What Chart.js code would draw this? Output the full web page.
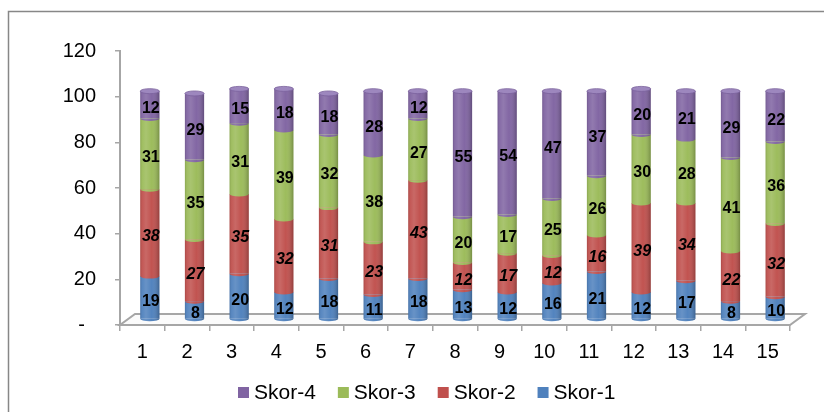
<!DOCTYPE html>
<html>
<head>
<meta charset="utf-8">
<script src="https://cdn.jsdelivr.net/npm/chart.js@4/dist/chart.umd.min.js"></script>
<style>
  html, body { margin: 0; padding: 0; background: #fff; }
  canvas { display: block; }
</style>
</head>
<body>
<canvas id="chart" width="824" height="412"></canvas>
<script>
// Categories and stacked score shares
const categories = ['1', '2', '3', '4', '5', '6', '7', '8', '9', '10', '11', '12', '13', '14', '15'];
const skor1 = [19, 8, 20, 12, 18, 11, 18, 13, 12, 16, 21, 12, 17, 8, 10];
const skor2 = [38, 27, 35, 32, 31, 23, 43, 12, 17, 12, 16, 39, 34, 22, 32];
const skor3 = [31, 35, 31, 39, 32, 38, 27, 20, 17, 25, 26, 30, 28, 41, 36];
const skor4 = [12, 29, 15, 18, 18, 28, 12, 55, 54, 47, 37, 20, 21, 29, 22];
const seriesNames = ['Skor-1', 'Skor-2', 'Skor-3', 'Skor-4'];
const yTickLabels = ['-  ', '20', '40', '60', '80', '100', '120'];

const FONT = '"Liberation Sans", Arial, Helvetica, sans-serif';
const COLORS = ['#4F81BD', '#C0504D', '#9BBB59', '#8064A2'];
const CAP_COLOR = '#9D87BE';
const CAP_EDGE = '#7A619C';
const AXIS_GREY = '#A6A6A6';

// Perspective offsets: floor depth and the bars sitting halfway back on it
const FLOOR_DX = 15, FLOOR_DY = -11;
const BAR_DX = 7.5, BAR_DY = -5.5;
const RY = 2.5; // vertical radius of the cylinder ellipses
const LABEL_DY = 4; // value labels sit on the front face of the cylinder

const cylinders = {
  id: 'cylinders',
  beforeDraw(chart) {
    const ctx = chart.ctx;
    ctx.save();
    ctx.fillStyle = '#fff';
    ctx.fillRect(0, 0, chart.width, chart.height);
    ctx.strokeStyle = '#878787';
    ctx.lineWidth = 1.5;
    ctx.strokeRect(8.5, 11.5, chart.width + 40, chart.height + 40);
    ctx.restore();
  },
  beforeDatasetsDraw(chart) {
    const { ctx, chartArea: a } = chart;
    ctx.save();
    ctx.beginPath();
    ctx.moveTo(a.left, a.bottom);
    ctx.lineTo(a.right, a.bottom);
    ctx.lineTo(a.right + FLOOR_DX, a.bottom + FLOOR_DY);
    ctx.lineTo(a.left + FLOOR_DX, a.bottom + FLOOR_DY);
    ctx.closePath();
    ctx.fillStyle = '#FBFBFB';
    ctx.fill();
    ctx.strokeStyle = AXIS_GREY;
    ctx.lineWidth = 2;
    ctx.stroke();
    ctx.restore();
    ctx.save();
    ctx.translate(BAR_DX, BAR_DY);
  },
  afterDatasetsDraw(chart) {
    const ctx = chart.ctx;
    const metas = chart.data.datasets.map((_, i) => chart.getDatasetMeta(i));
    const n = chart.data.labels.length;
    for (let j = 0; j < n; j++) {
      let topY = Infinity, baseY = -Infinity, cx = 0, w = 0;
      metas.forEach((m, i) => {
        const el = m.data[j];
        const p = el.getProps(['x', 'y', 'base', 'width'], true);
        if (Math.abs(p.base - p.y) < 0.5) return;
        cx = p.x; w = p.width;
        topY = Math.min(topY, p.y);
        baseY = Math.max(baseY, p.base);
        ctx.beginPath();
        ctx.ellipse(p.x, p.base, p.width / 2, RY, 0, 0, Math.PI);
        ctx.fillStyle = COLORS[i];
        ctx.fill();
      });
      if (!isFinite(topY)) continue;
      // cylinder shading
      const g = ctx.createLinearGradient(cx - w / 2, 0, cx + w / 2, 0);
      g.addColorStop(0, 'rgba(0,0,0,0.12)');
      g.addColorStop(0.12, 'rgba(255,255,255,0.06)');
      g.addColorStop(0.3, 'rgba(255,255,255,0.14)');
      g.addColorStop(0.6, 'rgba(255,255,255,0.02)');
      g.addColorStop(1, 'rgba(0,0,0,0.24)');
      ctx.beginPath();
      ctx.moveTo(cx - w / 2, topY);
      ctx.lineTo(cx + w / 2, topY);
      ctx.lineTo(cx + w / 2, baseY);
      ctx.ellipse(cx, baseY, w / 2, RY, 0, 0, Math.PI);
      ctx.closePath();
      ctx.fillStyle = g;
      ctx.fill();
      // top cap
      ctx.beginPath();
      ctx.ellipse(cx, topY, w / 2, RY, 0, 0, Math.PI * 2);
      ctx.fillStyle = CAP_COLOR;
      ctx.fill();
      ctx.strokeStyle = CAP_EDGE;
      ctx.lineWidth = 0.8;
      ctx.stroke();
    }
    // value labels
    ctx.fillStyle = '#000';
    ctx.textAlign = 'center';
    ctx.textBaseline = 'middle';
    metas.forEach((m, i) => {
      ctx.font = (i === 1 ? 'italic ' : '') + 'bold 16px ' + FONT;
      const values = chart.data.datasets[i].data;
      m.data.forEach((el, j) => {
        const p = el.getProps(['x', 'y', 'base'], true);
        ctx.fillText(String(values[j]), p.x + 1, (p.y + p.base) / 2 + LABEL_DY);
      });
    });
    ctx.restore();
  },
  afterDraw(chart) {
    const ctx = chart.ctx;
    ctx.save();
    ctx.font = '21px ' + FONT;
    ctx.textBaseline = 'middle';
    ctx.textAlign = 'left';
    let x = 238;
    const yMid = 393;
    for (let i = seriesNames.length - 1; i >= 0; i--) {
      ctx.fillStyle = COLORS[i];
      ctx.fillRect(x, yMid - 6, 11, 11);
      ctx.fillStyle = '#000';
      ctx.fillText(seriesNames[i], x + 16, yMid);
      x += 16 + ctx.measureText(seriesNames[i]).width + 22;
    }
    ctx.restore();
  }
};

const seriesData = [skor1, skor2, skor3, skor4];

new Chart(document.getElementById('chart'), {
  type: 'bar',
  data: {
    labels: categories,
    datasets: seriesNames.map((name, i) => ({
      label: name,
      data: seriesData[i],
      backgroundColor: COLORS[i],
      borderWidth: 0,
      barPercentage: 0.43,
      categoryPercentage: 1
    }))
  },
  options: {
    responsive: false,
    devicePixelRatio: 1,
    animation: false,
    events: [],
    layout: { padding: { top: 51, right: 34, bottom: 0, left: 0 } },
    plugins: {
      legend: { display: false },
      tooltip: { enabled: false }
    },
    scales: {
      x: {
        stacked: true,
        grid: { drawOnChartArea: false, tickLength: 6, color: AXIS_GREY, lineWidth: 1.5 },
        border: { color: AXIS_GREY, width: 2 },
        ticks: { color: '#000', font: { family: FONT, size: 20 }, padding: 9, maxRotation: 0 },
        afterFit(scale) { scale.height = 87; }
      },
      y: {
        stacked: true,
        min: 0,
        max: 120,
        grid: { drawOnChartArea: false, tickLength: 5, color: AXIS_GREY, lineWidth: 1.5 },
        border: { color: AXIS_GREY, width: 2 },
        ticks: {
          stepSize: 20,
          color: '#000',
          font: { family: FONT, size: 20 },
          padding: 19,
          callback: (v) => yTickLabels[v / 20]
        },
        afterFit(scale) { scale.width = 120; }
      }
    }
  },
  plugins: [cylinders]
});
</script>
</body>
</html>
